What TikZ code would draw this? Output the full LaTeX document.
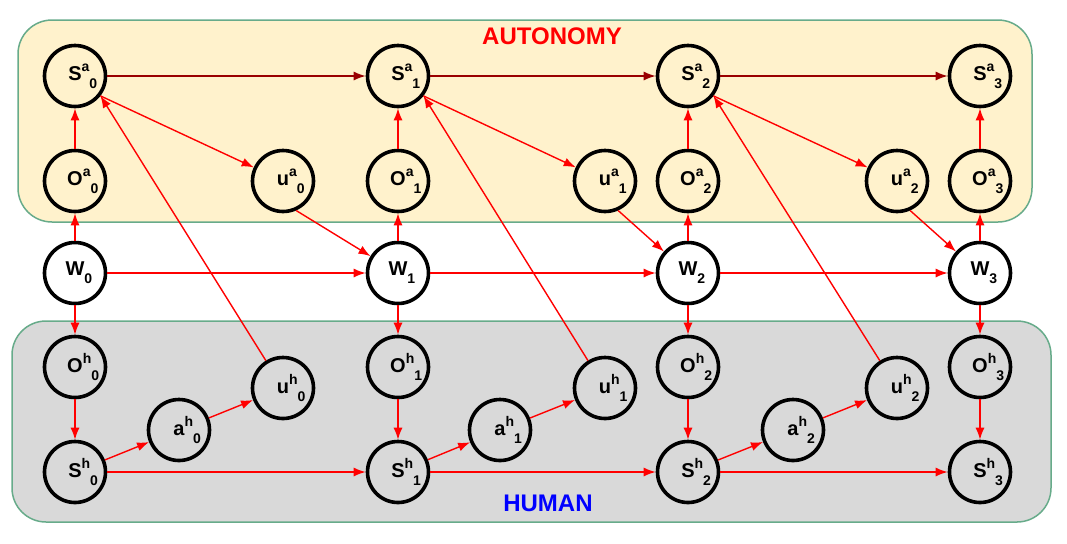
\documentclass[tikz,border=0pt]{standalone}
\usepackage{fontspec}
\setmainfont{Liberation Sans}
\usepackage{xcolor}
\definecolor{AutoFill}{HTML}{FFF2CC}
\definecolor{HumanFill}{HTML}{D9D9D9}
\definecolor{GroupLine}{HTML}{67AB8A}
\definecolor{LinkRed}{HTML}{FF0000}
\definecolor{StateRed}{HTML}{990000}
\usepackage{tikz}
\usetikzlibrary{arrows.meta}
\newcommand{\varlab}[3]{#1\rlap{\fontsize{7}{7}\selectfont\raisebox{4.5pt}{#2}\raisebox{-4pt}{#3}}}
\tikzset{
  varnode/.style={
    circle,
    draw=black,
    line width=1.8pt,
    minimum size=30.5pt,
    inner sep=0pt,
    font=\fontsize{10}{12}\selectfont\bfseries
  },
  grouplabel/.style={
    font=\fontsize{12}{14}\selectfont\bfseries
  },
  groupbox/.style={
    draw=GroupLine,
    line width=0.75pt,
    rounded corners=17pt
  },
  link/.style={
    -{Latex[length=6pt,width=4.5pt]},
    line width=0.7pt,
    draw=LinkRed
  },
  statelink/.style={
    link,
    draw=StateRed
  }
}

\begin{document}
\begin{tikzpicture}[x=0.5pt,y=-0.5pt]
\useasboundingbox (0,0) rectangle (1067,543);
% groups
\draw[groupbox, fill=AutoFill] (18,20) rectangle (1032,222);
\draw[groupbox, fill=HumanFill] (12,321) rectangle (1051,522);
\node[grouplabel, text=LinkRed] (autonomy) at (552,36) {AUTONOMY};
\node[grouplabel, text=blue] (human) at (548,503) {HUMAN};
% autonomy states and observations
\node[varnode] (sa0) at (75,76) {\varlab{S}{a}{0}};
\node[varnode] (sa1) at (398,76) {\varlab{S}{a}{1}};
\node[varnode] (sa2) at (688,76) {\varlab{S}{a}{2}};
\node[varnode] (sa3) at (980,76) {\varlab{S}{a}{3}};
\node[varnode] (oa0) at (75,181) {\varlab{O}{a}{0}};
\node[varnode] (oa1) at (398,181) {\varlab{O}{a}{1}};
\node[varnode] (oa2) at (688,181) {\varlab{O}{a}{2}};
\node[varnode] (oa3) at (980,181) {\varlab{O}{a}{3}};
\node[varnode] (ua0) at (283,181) {\varlab{u}{a}{0}};
\node[varnode] (ua1) at (605,181) {\varlab{u}{a}{1}};
\node[varnode] (ua2) at (897,181) {\varlab{u}{a}{2}};
% world
\node[varnode] (w0) at (75,273) {\varlab{W}{}{0}};
\node[varnode] (w1) at (398,273) {\varlab{W}{}{1}};
\node[varnode] (w2) at (688,273) {\varlab{W}{}{2}};
\node[varnode] (w3) at (980,273) {\varlab{W}{}{3}};
% human side
\node[varnode] (oh0) at (75,367) {\varlab{O}{h}{0}};
\node[varnode] (oh1) at (398,367) {\varlab{O}{h}{1}};
\node[varnode] (oh2) at (688,367) {\varlab{O}{h}{2}};
\node[varnode] (oh3) at (980,367) {\varlab{O}{h}{3}};
\node[varnode] (uh0) at (283,388) {\varlab{u}{h}{0}};
\node[varnode] (uh1) at (605,388) {\varlab{u}{h}{1}};
\node[varnode] (uh2) at (897,388) {\varlab{u}{h}{2}};
\node[varnode] (ah0) at (179,430) {\varlab{a}{h}{0}};
\node[varnode] (ah1) at (500,430) {\varlab{a}{h}{1}};
\node[varnode] (ah2) at (793,430) {\varlab{a}{h}{2}};
\node[varnode] (sh0) at (75,472) {\varlab{S}{h}{0}};
\node[varnode] (sh1) at (398,472) {\varlab{S}{h}{1}};
\node[varnode] (sh2) at (688,472) {\varlab{S}{h}{2}};
\node[varnode] (sh3) at (980,472) {\varlab{S}{h}{3}};
% autonomy chain
\draw[statelink] (sa0) -- (sa1);
\draw[statelink] (sa1) -- (sa2);
\draw[statelink] (sa2) -- (sa3);
\draw[link] (oa0) -- (sa0);
\draw[link] (oa1) -- (sa1);
\draw[link] (oa2) -- (sa2);
\draw[link] (oa3) -- (sa3);
\draw[link] (sa0.-38) -- (ua0);
\draw[link] (sa1.-38) -- (ua1);
\draw[link] (sa2.-38) -- (ua2);
\draw[link] (ua0.-66) -- (w1);
\draw[link] (ua1.-66) -- (w2);
\draw[link] (ua2.-66) -- (w3);
% world chain
\draw[link] (w0) -- (w1);
\draw[link] (w1) -- (w2);
\draw[link] (w2) -- (w3);
\draw[link] (w0) -- (oa0);
\draw[link] (w1) -- (oa1);
\draw[link] (w2) -- (oa2);
\draw[link] (w3) -- (oa3);
\draw[link] (w0) -- (oh0);
\draw[link] (w1) -- (oh1);
\draw[link] (w2) -- (oh2);
\draw[link] (w3) -- (oh3);
% human chain
\draw[link] (oh0) -- (sh0);
\draw[link] (oh1) -- (sh1);
\draw[link] (oh2) -- (sh2);
\draw[link] (oh3) -- (sh3);
\draw[link] (sh0) -- (sh1);
\draw[link] (sh1) -- (sh2);
\draw[link] (sh2) -- (sh3);
\draw[link] (sh0) -- (ah0);
\draw[link] (sh1) -- (ah1);
\draw[link] (sh2) -- (ah2);
\draw[link] (ah0) -- (uh0);
\draw[link] (ah1) -- (uh1);
\draw[link] (ah2) -- (uh2);
\draw[link] (uh0) -- (sa0.-38);
\draw[link] (uh1) -- (sa1.-38);
\draw[link] (uh2) -- (sa2.-38);
\end{tikzpicture}
\end{document}
